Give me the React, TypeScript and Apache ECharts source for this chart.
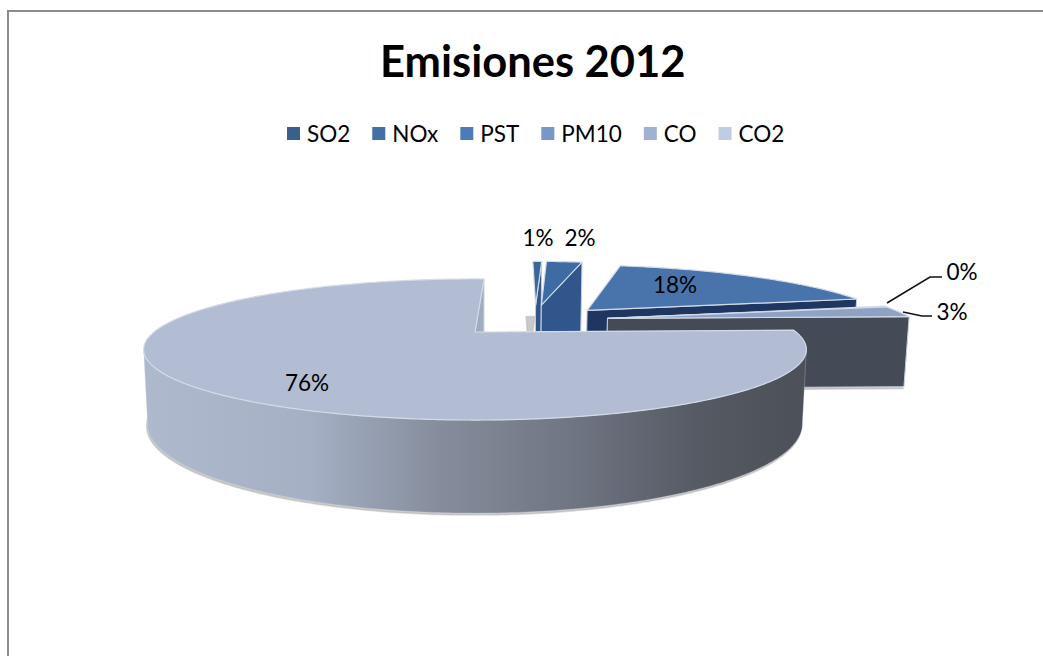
import React, { useEffect, useRef } from "react";
import * as echarts from "echarts";

const categories = ["SO2", "NOx", "PST", "PM10", "CO", "CO2"];
const shares = [0.6, 2.4, 18, 0.2, 2.8, 76];
const legendColors = ["#3a5f8e", "#426fa6", "#4b7bb8", "#7896c6", "#9fb2d4", "#c0cce2"];
const topColors = ["#3c6699", "#3f6ba3", "#4873ab", "#7f95bd", "#8fa2c4", "#b2bcd2"];
const faceColors = ["#2f5488", "#30568c", "#1f3661", "#3f4653", "#444b57", "#a0abc1"];
const explode: [number, number][] = [
  [0.21, 0.45],
  [0.23, 0.453],
  [0.38, 0.354],
  [0.435, 0.217],
  [0.435, 0.217],
  [0, 0],
];
const labelCenters: [number, number][] = [
  [538, 237],
  [580, 237],
  [675, 284],
  [962, 271],
  [952, 311],
  [307, 382],
];
const shadowOffsets: [number, number][] = [
  [-6, -15],
  [0, 2],
  [0, 2],
  [0, 2],
  [0, 2],
  [-1, 2],
];
const leaders: ([number, number][] | null)[] = [
  null,
  null,
  null,
  [[887, 303], [930, 277], [942, 277]],
  [[903, 312], [922, 316], [932, 316]],
  null,
];

const FONT = "Lato, Carlito, sans-serif";
const FIRST_ANGLE = 2;
const CX = 475;
const CY = 332;
const S = 321;
const Q = 66.2;
const P = 0.248;
const H = 70;
const SIL0 = 104.4;
const SIL1 = 255.6;

const total = shares.reduce((a, b) => a + b, 0);
const rad = (d: number) => (d * Math.PI) / 180;

function project(u: number, v: number, z: number): [number, number] {
  const w = 1 + P * v;
  const h = (z * H) / Math.min(w, 1);
  return [CX + ((S * u) / w) * (1 - 0.012 * z), CY - (Q * v) / w + h];
}

function arcPoints(a0: number, a1: number, ox: number, oy: number, z: number) {
  const n = Math.max(2, Math.ceil(Math.abs(a1 - a0) * 1.5));
  const out: [number, number][] = [];
  for (let i = 0; i <= n; i++) {
    const a = rad(a0 + ((a1 - a0) * i) / n);
    out.push(project(ox + Math.sin(a), oy + Math.cos(a), z));
  }
  return out;
}

function sliceRange(index: number): [number, number] {
  let start = FIRST_ANGLE;
  for (let i = 0; i < index; i++) start += (shares[i] / total) * 360;
  return [start, start + (shares[index] / total) * 360];
}

function renderSlice(index: number) {
  return () => {
    const [a0, a1] = sliceRange(index);
    const [ox, oy] = explode[index];
    const children: any[] = [];
    const apexTop = project(ox, oy, 0);
    const apexBottom = project(ox, oy, 1);
    const topArc = arcPoints(a0, a1, ox, oy, 0);
    const bottomArc = arcPoints(a0, a1, ox, oy, 1);

    children.push({
      type: "polygon",
      x: shadowOffsets[index][0],
      y: shadowOffsets[index][1],
      shape: { points: [apexBottom, ...bottomArc] },
      style: { fill: "rgba(150,150,150,0.5)", stroke: "rgba(170,170,170,0.4)", lineWidth: 1.5 },
    });

    const addFace = (angle: number) => {
      const a = rad(angle);
      const o0 = project(ox + Math.sin(a), oy + Math.cos(a), 0);
      const o1 = project(ox + Math.sin(a), oy + Math.cos(a), 1);
      children.push({
        type: "polygon",
        shape: { points: [apexTop, o0, o1, apexBottom] },
        style: { fill: faceColors[index], stroke: "#c3cddd", lineWidth: 1 },
      });
    };
    if (Math.cos(rad(a0 - 90)) < 0) addFace(a0);
    if (Math.cos(rad(a1 + 90)) < 0) addFace(a1);

    const w0 = Math.max(a0, SIL0);
    const w1 = Math.min(a1, SIL1);
    if (w1 > w0) {
      const t = arcPoints(w0, w1, ox, oy, 0);
      const b = arcPoints(w0, w1, ox, oy, 1);
      children.push({
        type: "polygon",
        shape: { points: [...t, ...b.reverse()] },
        style: {
          fill: new echarts.graphic.LinearGradient(
            143,
            0,
            805,
            0,
            [
              { offset: 0, color: "#aeb9ce" },
              { offset: 0.25, color: "#a5b0c5" },
              { offset: 0.45, color: "#858c9b" },
              { offset: 0.65, color: "#6f7582" },
              { offset: 0.84, color: "#555a63" },
              { offset: 1, color: "#4c5058" },
            ],
            true,
          ),
          stroke: "rgba(205,212,225,0.5)",
          lineWidth: 0.6,
        },
      });
    }

    children.push({
      type: "polygon",
      shape: { points: [apexTop, ...topArc] },
      style: { fill: topColors[index], stroke: "#d3dbe8", lineWidth: 1.2, lineJoin: "round" },
    });

    const leader = leaders[index];
    if (leader) {
      children.push({
        type: "polyline",
        shape: { points: leader },
        style: { fill: "none", stroke: "#111111", lineWidth: 1.5 },
      });
    }

    const [lx, ly] = labelCenters[index];
    children.push({
      type: "text",
      z2: 50,
      style: {
        text: `${Math.round((shares[index] / total) * 100)}%`,
        x: lx,
        y: ly,
        align: "center",
        verticalAlign: "middle",
        fill: "#000000",
        font: `22.5px ${FONT}`,
      },
    });

    return { type: "group", children };
  };
}

export default function App() {
  const ref = useRef<HTMLDivElement>(null);

  useEffect(() => {
    document.body.style.margin = "0";
    document.body.style.background = "#ffffff";
    const chart = echarts.init(ref.current!, undefined, { renderer: "svg" });
    chart.setOption({
      animation: false,
      backgroundColor: "#ffffff",
      title: {
        text: "Emisiones 2012",
        left: 375,
        top: 33,
        textStyle: { fontFamily: FONT, fontSize: 43.5, fontWeight: "bold", color: "#000000" },
      },
      legend: {
        data: categories,
        left: 282,
        top: 117,
        icon: "rect",
        itemWidth: 13,
        itemHeight: 13,
        itemGap: 22,
        selectedMode: false,
        textStyle: { fontFamily: FONT, fontSize: 22.5, color: "#000000", padding: [0, 0, 0, 2] },
      },
      graphic: [
        { type: "line", shape: { x1: 8, y1: 11, x2: 1043, y2: 11 }, style: { stroke: "#8c8c8c", lineWidth: 2 } },
        { type: "line", shape: { x1: 8, y1: 10, x2: 8, y2: 656 }, style: { stroke: "#8c8c8c", lineWidth: 2 } },
      ],
      series: categories.map((name, i) => ({
        type: "custom",
        name,
        coordinateSystem: "none",
        silent: true,
        itemStyle: { color: legendColors[i] },
        data: [shares[i]],
        renderItem: renderSlice(i),
      })),
    });
    return () => chart.dispose();
  }, []);

  return <div ref={ref} style={{ width: 1043, height: 656 }} />;
}
